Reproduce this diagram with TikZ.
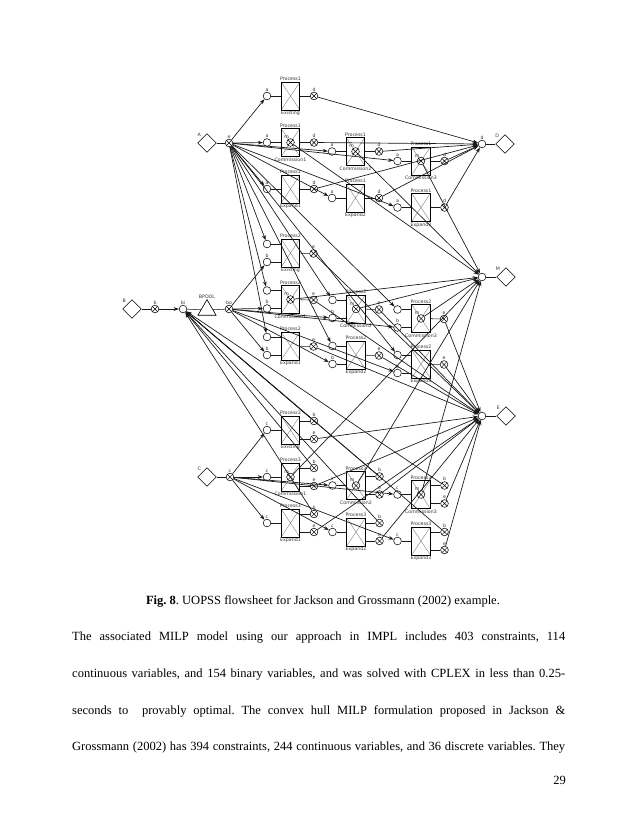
\documentclass[tikz,border=0pt]{standalone}
\usepackage{fontspec}
\setmainfont{Liberation Serif}
\setsansfont{DejaVu Sans}
\usetikzlibrary{shapes.geometric,arrows.meta}
\frenchspacing

\begin{document}
\begin{tikzpicture}[x=0.9588pt,y=-0.9588pt,
    lbl/.style={font=\fontsize{4.5}{5}\sffamily, inner sep=0.3pt, text=black!80},
    port/.style={draw, circle, fill=white, minimum size=7.4pt, inner sep=0pt, line width=0.5pt},
    xport/.style={port, path picture={\draw[line width=0.35pt]
        (path picture bounding box.north west) -- (path picture bounding box.south east)
        (path picture bounding box.north east) -- (path picture bounding box.south west);}},
    unitbox/.style={draw, rectangle, minimum width=18pt, minimum height=27pt, inner sep=0pt,
        line width=0.8pt, path picture={\draw[line width=0.3pt, black!55]
        (path picture bounding box.north west) -- (path picture bounding box.south east)
        (path picture bounding box.north east) -- (path picture bounding box.south west);}},
    feed/.style={draw, diamond, fill=white, minimum size=18pt, inner sep=0pt, line width=0.6pt},
    pool/.style={draw, regular polygon, regular polygon sides=3, fill=white, minimum size=20pt,
        inner sep=0pt, line width=0.6pt},
    link/.style={line width=0.5pt, black!90},
    flow/.style={line width=0.65pt, black!90, -{Stealth[length=5pt,width=3.6pt]}},
    body/.style={font=\fontsize{12}{14}\selectfont, inner sep=0pt, anchor=base west}]

  \fill[white] (0,0) rectangle (638,826);
  \useasboundingbox (0,0) rectangle (638,826);

  % feeds and products
  \node[feed, label={[lbl, label distance=1pt]above left:A}] (A) at (207,143) {};
  \node[xport, label={[lbl]above:e}] (Ae) at (229,143) {};
  \node[feed, label={[lbl, label distance=1pt]above left:B}] (B) at (132,309) {};
  \node[xport, label={[lbl]above:b}] (Bb) at (155,309) {};
  \node[port, label={[lbl]above:bi}] (bi) at (183,309) {};
  \node[pool, label={[lbl, label distance=0pt]above:BPOOL}] (pool) at (207,310) {};
  \node[xport, label={[lbl]above:bo}] (bo) at (229,309) {};
  \node[feed, label={[lbl, label distance=1pt]above left:C}] (C) at (207,477) {};
  \node[xport, label={[lbl]above:c}] (Cc) at (230,477) {};
  \node[port, label={[lbl]above:d}] (Dd) at (482,144) {};
  \node[feed, label={[lbl, label distance=1pt]above left:D}] (D) at (505,144) {};
  \node[port] (Mm) at (482,277) {};
  \node[feed, label={[lbl, label distance=1pt]above left:M}] (M) at (506,277) {};
  \node[port] (Ee) at (482,416) {};
  \node[feed, label={[lbl, label distance=1pt]above left:E}] (E) at (506,416) {};

  \draw[link] (A) -- (Ae);
  \draw[link] (B) -- (Bb);
  \draw[flow] (Bb) -- (bi);
  \draw[link] (bi) -- (pool);
  \draw[link] (pool) -- (bo);
  \draw[link] (C) -- (Cc);
  \draw[link] (Dd) -- (D);
  \draw[link] (Mm) -- (M);
  \draw[link] (Ee) -- (E);

  % Process1 units
  \foreach \unit/\ux/\uy/\utxt in {x/290.5/96/Existing, c1/290.5/142.5/Commission1,
      e1/290.5/189/Expand1, c2/355.5/151.5/Commission2, e2/355.5/198/Expand2,
      c3/421/161/Commission3, e3/421/207.5/Expand3} {
    \node[unitbox, label={[lbl]above:Process1}, label={[lbl]below:\utxt}] (p1\unit) at (\ux,\uy) {};
    \node[port, label={[lbl]above:a}] (a1\unit) at (\ux-23.5,\uy) {};
    \node[xport, label={[lbl]above:d}] (d1\unit) at (\ux+23.5,\uy) {};
    \draw[link] (a1\unit) -- (p1\unit);
    \draw[link] (p1\unit) -- (d1\unit);
  }

  % Process2 units
  \foreach \unit/\ux/\uy/\utxt in {x/290.5/253/Existing, c1/290.5/299.5/Commission1,
      e1/290.5/346/Expand1, c2/356/309/Commission2, e2/356/355/Expand2,
      c3/421/318.5/Commission3, e3/421/364/Expand3} {
    \node[unitbox, label={[lbl]above:Process2}, label={[lbl]below:\utxt}] (p2\unit) at (\ux,\uy) {};
    \node[port] (a2\unit) at (\ux-23.5,\uy-9) {};
    \node[port, label={[lbl]above:b}] (b2\unit) at (\ux-23.5,\uy+9) {};
    \node[xport, label={[lbl]above:e}] (e2\unit) at (\ux+23,\uy+0.5) {};
    \draw[link] (a2\unit) -- (a2\unit -| p2\unit.west);
    \draw[link] (b2\unit) -- (b2\unit -| p2\unit.west);
    \draw[link] (p2\unit) -- (e2\unit);
  }

  % Process3 units
  \foreach \unit/\ux/\uy/\utxt in {x/290.5/430/Existing, c1/290.5/477/Commission1,
      e1/290.5/523/Expand1, c2/356/485.5/Commission2, e2/356/532/Expand2,
      c3/421/494.5/Commission3, e3/421/541/Expand3} {
    \node[unitbox, label={[lbl]above:Process3}, label={[lbl]below:\utxt}] (p3\unit) at (\ux,\uy) {};
    \node[port, label={[lbl]above:c}] (c3\unit) at (\ux-23.5,\uy) {};
    \node[xport, label={[lbl]above:b}] (b3\unit) at (\ux+23.5,\uy-9) {};
    \node[xport, label={[lbl]above:e}] (e3\unit) at (\ux+23.5,\uy+9) {};
    \draw[link] (c3\unit) -- (p3\unit);
    \draw[link] (b3\unit -| p3\unit.east) -- (b3\unit);
    \draw[link] (e3\unit -| p3\unit.east) -- (e3\unit);
  }

  % commission ports m
  \foreach \unit in {c1,c2,c3} {
    \node[xport, label={[lbl, label distance=-0.8pt]110:m}] (m1\unit) at (p1\unit) {};
    \node[xport, label={[lbl, label distance=-0.8pt]110:m}] (m2\unit) at (p2\unit) {};
    \node[xport, label={[lbl, label distance=-0.8pt]110:m}] (m3\unit) at (p3\unit) {};
    \draw[flow] (m1\unit) -- (Mm);
    \draw[flow] (m2\unit) -- (Mm);
    \draw[flow] (m3\unit) -- (Mm);
  }

  % streams
  \foreach \unit in {x,c1,e1,c2,e2,c3,e3} {
    \draw[flow] (Ae) -- (a1\unit);
    \draw[flow] (Ae) -- (a2\unit);
    \draw[flow] (bo) -- (b2\unit);
    \draw[flow] (Cc) -- (c3\unit);
    \draw[flow] (d1\unit) -- (Dd);
    \draw[flow] (e2\unit) -- (Ee);
    \draw[flow] (e3\unit) -- (Ee);
    \draw[flow] (b3\unit) -- (bi);
  }

  % caption and text
  \node[font=\fontsize{12}{14}\selectfont, inner sep=0pt, anchor=base] (cap) at (323,604)
    {\textbf{Fig. 8}. UOPSS flowsheet for Jackson and Grossmann (2002) example.};
  \node[body] (line1) at (72,640) {\makebox[472.7pt][s]{The associated MILP model using our approach in IMPL includes 403 constraints, 114}};
  \node[body] (line2) at (72,677) {\makebox[472.7pt][s]{continuous variables, and 154 binary variables, and was solved with CPLEX in less than 0.25-}};
  \node[body] (line3) at (72,714) {\makebox[472.7pt][s]{seconds to \ provably optimal. The convex hull MILP formulation proposed in Jackson \&}};
  \node[body] (line4) at (72,750) {\makebox[472.7pt][s]{Grossmann (2002) has 394 constraints, 244 continuous variables, and 36 discrete variables. They}};
  \node[font=\fontsize{12}{14}\selectfont, inner sep=0pt, anchor=base east] (page) at (566,784) {29};
\end{tikzpicture}
\end{document}
